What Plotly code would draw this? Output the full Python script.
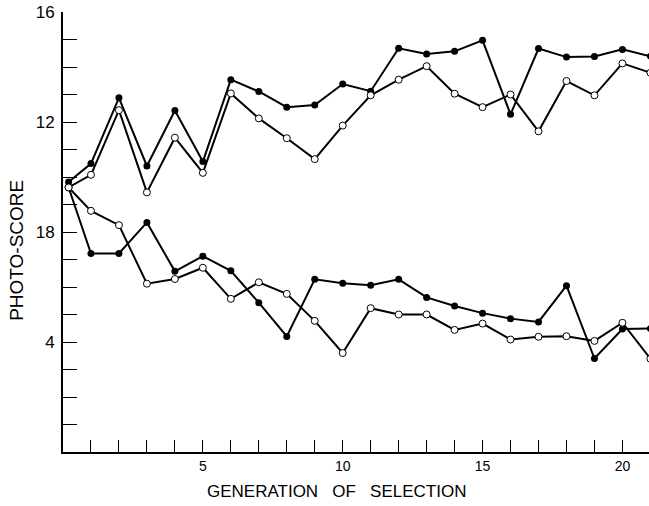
import plotly.graph_objects as go

generations = [0.2, 1, 2, 3, 4, 5, 6, 7, 8, 9, 10, 11, 12, 13, 14, 15, 16, 17, 18, 19, 20, 21]

high_filled = [9.82, 10.49, 12.88, 10.40, 12.42, 10.56, 13.54, 13.11, 12.54, 12.62, 13.38,
               13.12, 14.68, 14.47, 14.57, 14.97, 12.28, 14.67, 14.36, 14.38, 14.64, 14.39]
high_open = [9.62, 10.08, 12.43, 9.44, 11.43, 10.15, 13.04, 12.13, 11.41, 10.65, 11.87,
             12.97, 13.54, 14.03, 13.03, 12.54, 13.00, 11.66, 13.49, 12.97, 14.13, 13.79]
low_filled = [9.62, 7.22, 7.22, 8.35, 6.57, 7.12, 6.59, 5.43, 4.20, 6.28, 6.14,
              6.06, 6.28, 5.62, 5.31, 5.05, 4.85, 4.73, 6.05, 3.40, 4.47, 4.49]
low_open = [9.62, 8.77, 8.25, 6.12, 6.29, 6.70, 5.57, 6.17, 5.75, 4.77, 3.60,
            5.23, 5.00, 5.00, 4.44, 4.67, 4.09, 4.19, 4.21, 4.04, 4.70, 3.39]

x_tick_vals = list(range(0, 21))
x_labels = {5: "5", 10: "10", 15: "15", 20: "20"}
x_tick_text = [x_labels.get(v, "") for v in x_tick_vals]
y_tick_vals = list(range(0, 17))
y_labels = {4: "4", 8: "18", 12: "12", 16: "16"}
y_tick_text = [y_labels.get(v, "") for v in y_tick_vals]

x_title = "GENERATION\u00a0\u00a0\u00a0OF\u00a0\u00a0\u00a0SELECTION"
y_title = "PHOTO-SCORE"

FONT = "Liberation Sans"

def filled(y):
    return go.Scatter(x=generations, y=y, mode="lines+markers",
                      line=dict(color="black", width=2),
                      marker=dict(symbol="circle", size=7, color="black"),
                      showlegend=False, hoverinfo="skip")

def opened(y):
    return go.Scatter(x=generations, y=y, mode="lines+markers",
                      line=dict(color="black", width=2),
                      marker=dict(symbol="circle", size=7, color="white",
                                  line=dict(color="black", width=1)),
                      showlegend=False, hoverinfo="skip")

fig = go.Figure()
fig.add_trace(filled(low_filled))
fig.add_trace(opened(low_open))
fig.add_trace(filled(high_filled))
fig.add_trace(opened(high_open))

fig.update_layout(
    width=649, height=506,
    margin=dict(l=62.5, r=0, t=12, b=53.7, autoexpand=False),
    paper_bgcolor="white", plot_bgcolor="white",
    font=dict(family=FONT, color="black", size=15),
    xaxis=dict(range=[0, 20.95], tickmode="array", tickvals=x_tick_vals, ticktext=x_tick_text,
               ticks="inside", ticklen=12, tickwidth=1, tickcolor="black",
               showline=True, linecolor="black", linewidth=2, showgrid=False, zeroline=False,
               tickfont=dict(size=14, family=FONT), ticklabelstandoff=0,
               ticklabeloverflow="allow"),
    yaxis=dict(range=[0, 16], tickmode="array", tickvals=y_tick_vals, ticktext=y_tick_text,
               ticks="inside", ticklen=14, tickwidth=1, tickcolor="black",
               showline=True, linecolor="black", linewidth=2, showgrid=False, zeroline=False,
               tickfont=dict(size=17, family=FONT), ticklabelstandoff=3,
               ticklabeloverflow="allow"),
    annotations=[
        dict(text=x_title, xref="paper", yref="paper", x=0.466, y=-0.09,
             xanchor="center", yanchor="middle", showarrow=False,
             font=dict(size=17, family=FONT)),
        dict(text=y_title, xref="paper", yref="paper", x=-0.0805, y=0.459,
             xanchor="center", yanchor="middle", showarrow=False, textangle=-90,
             font=dict(size=19, family=FONT)),
    ],
)

fig.write_html("out.html", post_script="document.body.style.margin='0';",
               config={"displayModeBar": False})
